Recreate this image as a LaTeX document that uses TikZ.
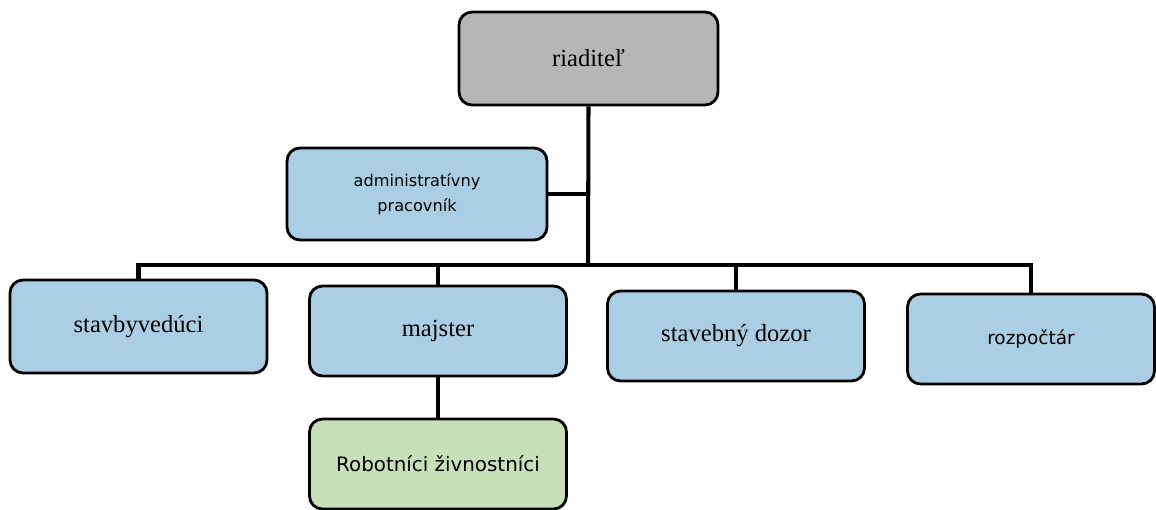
\documentclass[tikz,border=0pt]{standalone}
\usepackage{fontspec}
\setmainfont{Liberation Serif}
\newfontfamily\boxsans{DejaVu Sans}
\definecolor{boxblue}{RGB}{170,206,227}
\definecolor{boxgray}{RGB}{182,182,182}
\definecolor{boxgreen}{RGB}{200,224,184}
\tikzset{
    every node/.style={rectangle, rounded corners=0.26cm, draw, line width=1.6pt,
    	fill=boxblue, minimum width=5.14cm, minimum height=1.8cm, align=center,
    	font=\fontsize{14}{17}\selectfont}
}
\tikzset{
    sansbox/.style={font=\boxsans\fontsize{10.5}{14}\selectfont}
}
\tikzset{
    link/.style={line width=2.3pt}
}

\begin{document}
\begin{tikzpicture}
  \useasboundingbox (0cm,0cm) rectangle (23.12cm,-10.18cm);

  \node (riaditel) [fill=boxgray,minimum width=5.18cm,minimum height=1.86cm] at (11.77cm,-1.17cm) {riaditeľ};

  \node (admin) [sansbox,font=\boxsans\fontsize{9.2}{14}\selectfont,minimum width=5.2cm,minimum height=1.84cm] at (8.34cm,-3.88cm) {administratívny\\pracovník};

  \node (stavby) [minimum height=1.86cm] at (2.77cm,-6.53cm) {stavbyvedúci};

  \node (majster) at (8.76cm,-6.62cm) {majster};

  \node (dozor) at (14.72cm,-6.72cm) {stavebný dozor};

  \node (rozpocet) [sansbox,minimum width=4.94cm] at (20.62cm,-6.78cm) {rozpočtár};

  \node (robotnici) [sansbox,font=\boxsans\fontsize{11.3}{14}\selectfont,fill=boxgreen] at (8.76cm,-9.28cm) {Robotníci živnostníci};

  \coordinate (bus) at (11.76cm,-5.3cm);

  \draw [link] (riaditel.south) -- (bus);
  \draw [link] (admin.east) -- (admin.east -| riaditel.south);
  \foreach \n in {stavby,majster,dozor,rozpocet}
    \draw [link] (\n.north) |- (bus);
  \draw [link] (majster.south) -- (robotnici.north);
\end{tikzpicture}
\end{document}
